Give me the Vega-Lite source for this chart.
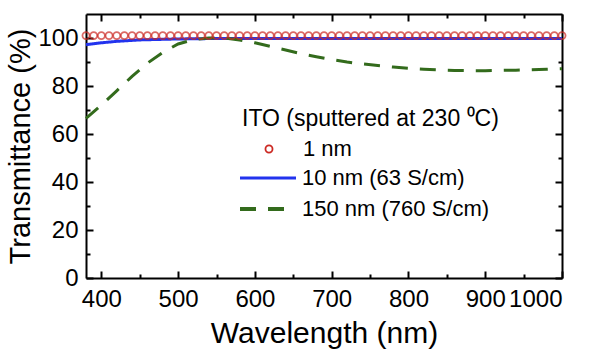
{
  "$schema": "https://vega.github.io/schema/vega-lite/v6.json",
  "width": 476,
  "height": 264,
  "autosize": {"type": "none"},
  "padding": {"left": 86, "top": 14, "right": 28, "bottom": 73},
  "config": {
    "view": {"stroke": null},
    "font": "Liberation Sans",
    "axis": {"domainColor": "black", "domainWidth": 2, "tickColor": "black", "tickWidth": 2, "grid": false, "labelFont": "Liberation Sans", "labelFontSize": 24, "labelColor": "black", "titleFont": "Liberation Sans", "titleFontSize": 29, "titleFontWeight": "normal", "titleColor": "black"},
    "legend": {
      "titleFont": "Liberation Sans", "titleFontSize": 23, "titleFontWeight": "normal", "titleColor": "black", "titleLimit": 400,
      "labelFont": "Liberation Sans", "labelFontSize": 22, "labelColor": "black", "labelLimit": 300,
      "rowPadding": 0, "padding": 0, "symbolOpacity": 1
    }
  },
  "datasets": {
    "circ": [
      {"s":"1 nm","wl":380,"T":101},{"s":"1 nm","wl":390,"T":101},{"s":"1 nm","wl":400,"T":101},{"s":"1 nm","wl":410,"T":101},{"s":"1 nm","wl":420,"T":101},{"s":"1 nm","wl":430,"T":101},{"s":"1 nm","wl":440,"T":101},{"s":"1 nm","wl":450,"T":101},{"s":"1 nm","wl":460,"T":101},{"s":"1 nm","wl":470,"T":101},{"s":"1 nm","wl":480,"T":101},{"s":"1 nm","wl":490,"T":101},{"s":"1 nm","wl":500,"T":101},{"s":"1 nm","wl":510,"T":101},{"s":"1 nm","wl":520,"T":101},{"s":"1 nm","wl":530,"T":101},{"s":"1 nm","wl":540,"T":101},{"s":"1 nm","wl":550,"T":101},{"s":"1 nm","wl":560,"T":101},{"s":"1 nm","wl":570,"T":101},{"s":"1 nm","wl":580,"T":101},{"s":"1 nm","wl":590,"T":101},{"s":"1 nm","wl":600,"T":101},{"s":"1 nm","wl":610,"T":101},{"s":"1 nm","wl":620,"T":101},{"s":"1 nm","wl":630,"T":101},{"s":"1 nm","wl":640,"T":101},{"s":"1 nm","wl":650,"T":101},{"s":"1 nm","wl":660,"T":101},{"s":"1 nm","wl":670,"T":101},{"s":"1 nm","wl":680,"T":101},{"s":"1 nm","wl":690,"T":101},{"s":"1 nm","wl":700,"T":101},{"s":"1 nm","wl":710,"T":101},{"s":"1 nm","wl":720,"T":101},{"s":"1 nm","wl":730,"T":101},{"s":"1 nm","wl":740,"T":101},{"s":"1 nm","wl":750,"T":101},{"s":"1 nm","wl":760,"T":101},{"s":"1 nm","wl":770,"T":101},{"s":"1 nm","wl":780,"T":101},{"s":"1 nm","wl":790,"T":101},{"s":"1 nm","wl":800,"T":101},{"s":"1 nm","wl":810,"T":101},{"s":"1 nm","wl":820,"T":101},{"s":"1 nm","wl":830,"T":101},{"s":"1 nm","wl":840,"T":101},{"s":"1 nm","wl":850,"T":101},{"s":"1 nm","wl":860,"T":101},{"s":"1 nm","wl":870,"T":101},{"s":"1 nm","wl":880,"T":101},{"s":"1 nm","wl":890,"T":101},{"s":"1 nm","wl":900,"T":101},{"s":"1 nm","wl":910,"T":101},{"s":"1 nm","wl":920,"T":101},{"s":"1 nm","wl":930,"T":101},{"s":"1 nm","wl":940,"T":101},{"s":"1 nm","wl":950,"T":101},{"s":"1 nm","wl":960,"T":101},{"s":"1 nm","wl":970,"T":101},{"s":"1 nm","wl":980,"T":101},{"s":"1 nm","wl":990,"T":101},{"s":"1 nm","wl":1000,"T":101}
    ],
    "lines": [
      {"s":"10 nm (63 S/cm)","wl":380,"T":97.2},
      {"s":"10 nm (63 S/cm)","wl":400,"T":98.0},
      {"s":"10 nm (63 S/cm)","wl":420,"T":98.6},
      {"s":"10 nm (63 S/cm)","wl":450,"T":99.2},
      {"s":"10 nm (63 S/cm)","wl":500,"T":99.6},
      {"s":"10 nm (63 S/cm)","wl":550,"T":99.8},
      {"s":"10 nm (63 S/cm)","wl":600,"T":99.8},
      {"s":"10 nm (63 S/cm)","wl":700,"T":99.8},
      {"s":"10 nm (63 S/cm)","wl":800,"T":99.8},
      {"s":"10 nm (63 S/cm)","wl":900,"T":99.8},
      {"s":"10 nm (63 S/cm)","wl":1000,"T":99.8},
      {"s":"150 nm (760 S/cm)","wl":380,"T":66.5},
      {"s":"150 nm (760 S/cm)","wl":400,"T":72},
      {"s":"150 nm (760 S/cm)","wl":420,"T":78},
      {"s":"150 nm (760 S/cm)","wl":440,"T":84},
      {"s":"150 nm (760 S/cm)","wl":460,"T":89.5},
      {"s":"150 nm (760 S/cm)","wl":480,"T":94},
      {"s":"150 nm (760 S/cm)","wl":500,"T":97.5},
      {"s":"150 nm (760 S/cm)","wl":520,"T":99.3},
      {"s":"150 nm (760 S/cm)","wl":540,"T":100},
      {"s":"150 nm (760 S/cm)","wl":560,"T":100},
      {"s":"150 nm (760 S/cm)","wl":580,"T":99.2},
      {"s":"150 nm (760 S/cm)","wl":600,"T":98},
      {"s":"150 nm (760 S/cm)","wl":620,"T":96.5},
      {"s":"150 nm (760 S/cm)","wl":640,"T":95},
      {"s":"150 nm (760 S/cm)","wl":660,"T":93.5},
      {"s":"150 nm (760 S/cm)","wl":680,"T":92.2},
      {"s":"150 nm (760 S/cm)","wl":700,"T":91},
      {"s":"150 nm (760 S/cm)","wl":720,"T":90},
      {"s":"150 nm (760 S/cm)","wl":740,"T":89.2},
      {"s":"150 nm (760 S/cm)","wl":760,"T":88.5},
      {"s":"150 nm (760 S/cm)","wl":780,"T":87.9},
      {"s":"150 nm (760 S/cm)","wl":800,"T":87.4},
      {"s":"150 nm (760 S/cm)","wl":820,"T":87},
      {"s":"150 nm (760 S/cm)","wl":840,"T":86.7},
      {"s":"150 nm (760 S/cm)","wl":860,"T":86.5},
      {"s":"150 nm (760 S/cm)","wl":880,"T":86.4},
      {"s":"150 nm (760 S/cm)","wl":900,"T":86.4},
      {"s":"150 nm (760 S/cm)","wl":920,"T":86.5},
      {"s":"150 nm (760 S/cm)","wl":940,"T":86.6},
      {"s":"150 nm (760 S/cm)","wl":960,"T":86.8},
      {"s":"150 nm (760 S/cm)","wl":980,"T":87},
      {"s":"150 nm (760 S/cm)","wl":1000,"T":87.2}
    ]
  },
  "resolve": {"axis": {"x": "independent", "y": "independent"}},
  "layer": [
    {
      "data": {"name": "circ"},
      "mark": {"type": "point", "opacity": 0},
      "encoding": {
        "x": {"field": "wl", "type": "quantitative", "scale": {"domain": [380, 1000], "nice": false, "zero": false},
              "axis": {"orient": "bottom", "values": [450, 550, 650, 750, 850, 950], "tickSize": -4, "labels": false, "domain": false, "title": null}},
        "y": {"field": "T", "type": "quantitative", "scale": {"domain": [0, 110], "nice": false},
              "axis": {"orient": "left", "values": [10, 30, 50, 70, 90], "tickSize": -4, "labels": false, "domain": false, "title": null}}
      }
    },
    {
      "data": {"name": "circ"},
      "mark": {"type": "point", "opacity": 0},
      "encoding": {
        "x": {"field": "wl", "type": "quantitative",
              "axis": {"orient": "top", "values": [450, 550, 650, 750, 850, 950], "tickSize": -4, "labels": false, "domain": false, "title": null}},
        "y": {"field": "T", "type": "quantitative",
              "axis": {"orient": "right", "values": [10, 30, 50, 70, 90], "tickSize": -4, "labels": false, "domain": false, "title": null}}
      }
    },
    {
      "data": {"name": "lines"},
      "mark": {"type": "line", "strokeWidth": 3},
      "encoding": {
        "x": {"field": "wl", "type": "quantitative",
              "axis": {"orient": "top", "values": [400, 500, 600, 700, 800, 900, 1000], "tickSize": -7, "labels": false, "title": null}},
        "y": {"field": "T", "type": "quantitative",
              "axis": {"orient": "right", "values": [0, 20, 40, 60, 80, 100], "tickSize": -7, "labels": false, "title": null}},
        "color": {"field": "s", "type": "nominal",
                  "scale": {"domain": ["10 nm (63 S/cm)", "150 nm (760 S/cm)"], "range": ["#2233ee", "#336b1c"]},
                  "legend": {"title": null, "orient": "none", "legendX": 152, "legendY": 149, "symbolType": "stroke", "symbolSize": 3136, "symbolStrokeWidth": 3.5, "clipHeight": 30, "rowPadding": 1, "labelOffset": 4}},
        "strokeDash": {"field": "s", "type": "nominal", "scale": {"domain": ["10 nm (63 S/cm)", "150 nm (760 S/cm)"], "range": [[1, 0], [16, 12]]},
                  "legend": {"title": null, "orient": "none", "legendX": 152, "legendY": 149, "symbolType": "stroke", "symbolSize": 3136, "symbolStrokeWidth": 3.5, "clipHeight": 30, "rowPadding": 1, "labelOffset": 4}},
        "strokeWidth": {"field": "s", "type": "nominal", "scale": {"domain": ["10 nm (63 S/cm)", "150 nm (760 S/cm)"], "range": [3, 4]}, "legend": null}
      }
    },
    {
      "data": {"name": "circ"},
      "mark": {"type": "point", "filled": false, "size": 50, "strokeWidth": 1.8, "color": "#cc2a24"},
      "encoding": {
        "x": {"field": "wl", "type": "quantitative",
              "axis": {"orient": "bottom", "values": [400, 500, 600, 700, 800, 900, 1000], "format": "d", "tickSize": -7, "labelPadding": 16, "title": "Wavelength (nm)", "titleFontSize": 30, "titlePadding": 7}},
        "y": {"field": "T", "type": "quantitative",
              "axis": {"orient": "left", "values": [0, 20, 40, 60, 80, 100], "tickSize": -7, "labelPadding": 15, "title": "Transmittance (%)", "titlePadding": 2}},
        "shape": {"field": "s", "type": "nominal", "scale": {"domain": ["1 nm"], "range": ["circle"]},
                  "legend": {"title": "ITO (sputtered at 230 \u2070C)", "orient": "none", "legendX": 156, "legendY": 94, "titlePadding": 3,
                             "symbolType": "circle", "symbolSize": 50, "symbolStrokeWidth": 1.8, "symbolStrokeColor": "#cc2a24", "symbolFillColor": "transparent",
                             "symbolOffset": 16, "labelOffset": 23, "clipHeight": 30}}
      }
    }
  ]
}
